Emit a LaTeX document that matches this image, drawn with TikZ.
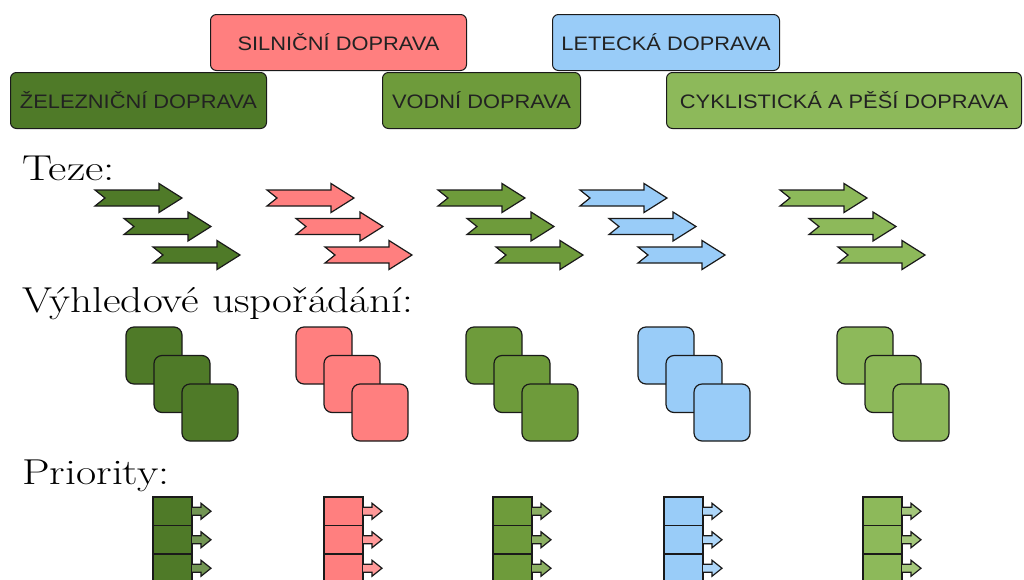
\documentclass[tikz,border=0pt]{standalone}
\usepackage{fontspec}
\newfontfamily\boxfont{Liberation Sans}
\definecolor{cRail}{HTML}{4F7A28}
\definecolor{cRoad}{HTML}{FF7F7F}
\definecolor{cWater}{HTML}{6E9B3B}
\definecolor{cAir}{HTML}{99CCF8}
\definecolor{cBike}{HTML}{8DB95A}
\definecolor{txt}{HTML}{222222}
\definecolor{edge}{HTML}{1A1A1A}
\tikzset{
  topbox/.style={draw=edge, line width=1pt, rounded corners=6pt, anchor=north west,
    inner sep=0pt, text=txt, font=\boxfont\fontsize{19.5}{22}\selectfont},
  headtxt/.style={anchor=base west, inner sep=0pt, font=\fontsize{36}{40}\selectfont},
  outl/.style={draw=edge, line width=1.2pt},
  pics/tarrow/.style={code={
    \path[outl, fill=#1] (0,-8) -- (64,-8) -- (64,-14.5) -- (87,0) -- (64,14.5)
      -- (64,8) -- (0,8) -- (10,0) -- cycle;}},
  pics/tsquare/.style={code={
    \path[outl, fill=#1, rounded corners=8pt] (0,0) rectangle (56,57);}},
  pics/pcell/.style={code={
    \path[outl, fill=#1] (0,0) rectangle (39,28.5);
    \path[outl, fill=#1!80!white] (39,10.25) -- (48,10.25) -- (48,6.25) -- (58,14.25)
      -- (48,22.25) -- (48,18.25) -- (39,18.25);}},
}
\begin{document}
\begin{tikzpicture}[x=1pt,y=-1pt]
\useasboundingbox (0,0) rectangle (1024,579);
\clip (0,0) rectangle (1024,579);
% top boxes
\node[topbox, fill=cRoad, minimum width=256pt, minimum height=56pt] (road) at (210,14) {\scalebox{1.12}[1]{SILNIČNÍ DOPRAVA}};
\node[topbox, fill=cAir, minimum width=227pt, minimum height=56pt] (air) at (552,14) {\scalebox{1.12}[1]{LETECKÁ DOPRAVA}};
\node[topbox, fill=cRail, minimum width=256pt, minimum height=56pt] (rail) at (10,72) {\scalebox{1.12}[1]{ŽELEZNIČNÍ DOPRAVA}};
\node[topbox, fill=cWater, minimum width=198pt, minimum height=56pt] (water) at (382,72) {\scalebox{1.12}[1]{VODNÍ DOPRAVA}};
\node[topbox, fill=cBike, minimum width=355pt, minimum height=56pt] (bike) at (666,72) {\scalebox{1.12}[1]{CYKLISTICKÁ A PĚŠÍ DOPRAVA}};
% labels
\node[headtxt] (teze) at (22,180) {\scalebox{1.25}[1]{Teze:}};
\node[headtxt] (vyhled) at (22,312) {\scalebox{1.2}[1]{Výhledové uspořádání:}};
\node[headtxt] (prio) at (22,484) {\scalebox{1.22}[1]{Priority:}};
% theses arrows
\foreach \x/\c in {95/cRail,267/cRoad,438/cWater,580/cAir,780/cBike}{
  \foreach \k in {0,1,2}{
    \pic at ({\x+29*\k},{198+28.5*\k}) {tarrow=\c};
  }
}
% outlook squares
\foreach \x/\c in {126/cRail,296/cRoad,466/cWater,638/cAir,837/cBike}{
  \foreach \k in {0,1,2}{
    \pic at ({\x+28*\k},{327+28.5*\k}) {tsquare=\c};
  }
}
% priorities
\foreach \x/\c in {153/cRail,324/cRoad,493/cWater,664/cAir,863/cBike}{
  \foreach \k in {0,1,2}{
    \pic at (\x,{497+28.5*\k}) {pcell=\c};
  }
}
\end{tikzpicture}
\end{document}
